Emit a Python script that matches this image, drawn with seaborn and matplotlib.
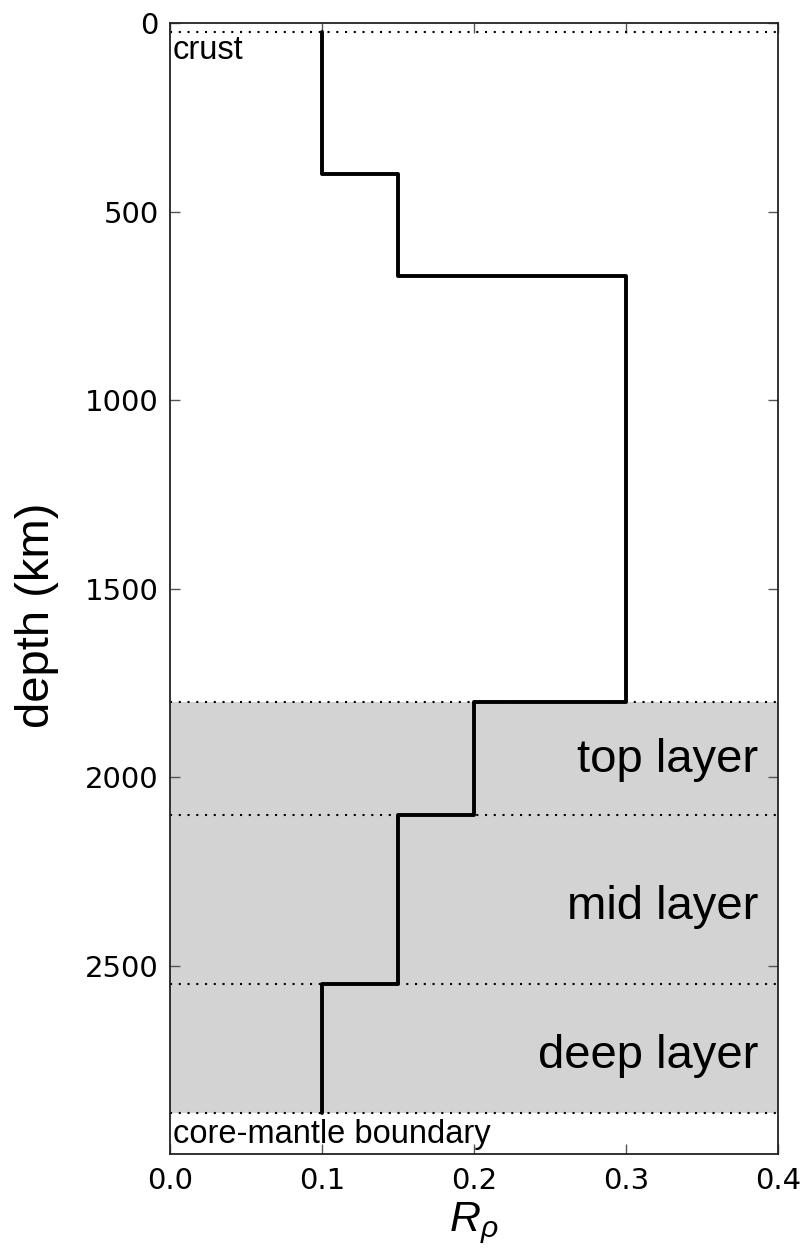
import numpy as np
import pandas as pd
import matplotlib
matplotlib.use("Agg")
import matplotlib.pyplot as plt
import seaborn as sns

# ---- data ----
layer_bounds = [24, 400, 670, 1800, 2100, 2550, 2891]   # depth (km) of each step
r_rho = [0.1, 0.15, 0.3, 0.2, 0.15, 0.1]                # R_rho within each interval
boundary_lines = [24, 1800, 2100, 2550, 2891]           # dotted horizontal lines
shade_top, shade_bottom = 1800, 2891
layer_names = ["top layer", "mid layer", "deep layer"]
layer_label_depths = [1955, 2345, 2740]
x_ticks = [0.0, 0.1, 0.2, 0.3, 0.4]
y_ticks = [0, 500, 1000, 1500, 2000, 2500]

# build step profile from the arrays
xs, ys = [], []
for i, v in enumerate(r_rho):
    xs += [v, v]
    ys += [layer_bounds[i], layer_bounds[i + 1]]
df = pd.DataFrame({"R": xs, "depth": ys})

sns.set_style("ticks")
plt.rcParams["font.family"] = ["DejaVu Sans"]
plt.rcParams["mathtext.fontset"] = "custom"
plt.rcParams["mathtext.it"] = "Liberation Sans:italic"
plt.rcParams["mathtext.rm"] = "Liberation Sans"
for k in ["text.color", "axes.labelcolor", "xtick.labelcolor", "ytick.labelcolor"]:
    plt.rcParams[k] = "black"

fig = plt.figure(figsize=(8.04, 12.53), dpi=100)
ax = fig.add_axes([0.2114, 0.0790, 0.7562, 0.9026])

ax.axhspan(shade_top, shade_bottom, color="#d3d3d3", lw=0, zorder=0)
for d in boundary_lines:
    ax.axhline(d, color="black", lw=1.5, linestyle=(0, (1, 3.2)), zorder=1)

sns.lineplot(data=df, x="R", y="depth", sort=False, estimator=None,
             color="black", lw=2.8, ax=ax, zorder=3)

ax.set_xlim(0, 0.4)
ax.set_ylim(3000, 0)
ax.set_xticks(x_ticks)
ax.set_xticklabels([f"{t:.1f}" for t in x_ticks])
ax.set_yticks(y_ticks)
ax.tick_params(direction="in", length=7, width=1, color="#555555",
               labelsize=21, top=True, right=True, pad=8)
ax.tick_params(axis="x", pad=9)
for s in ax.spines.values():
    s.set_linewidth(1.3)
    s.set_color("#222222")

lab_font = dict(family="Liberation Sans")
ax.set_ylabel("depth (km)", fontsize=34, **lab_font)
ax.yaxis.set_label_coords(-0.183, 0.4766)
ax.set_xlabel(r"$R_\rho$", fontsize=31, labelpad=4)

for name, d in zip(layer_names, layer_label_depths):
    ax.text(0.967, d, name, transform=ax.get_yaxis_transform(),
            ha="right", va="center", fontsize=34, **lab_font)

ax.text(0.005, 96, "crust", transform=ax.get_yaxis_transform(),
        ha="left", va="baseline", fontsize=23.5, **lab_font)
ax.text(0.005, 2970, "core-mantle boundary", transform=ax.get_yaxis_transform(),
        ha="left", va="baseline", fontsize=23.5, **lab_font)

fig.savefig("out.png", dpi=100)
